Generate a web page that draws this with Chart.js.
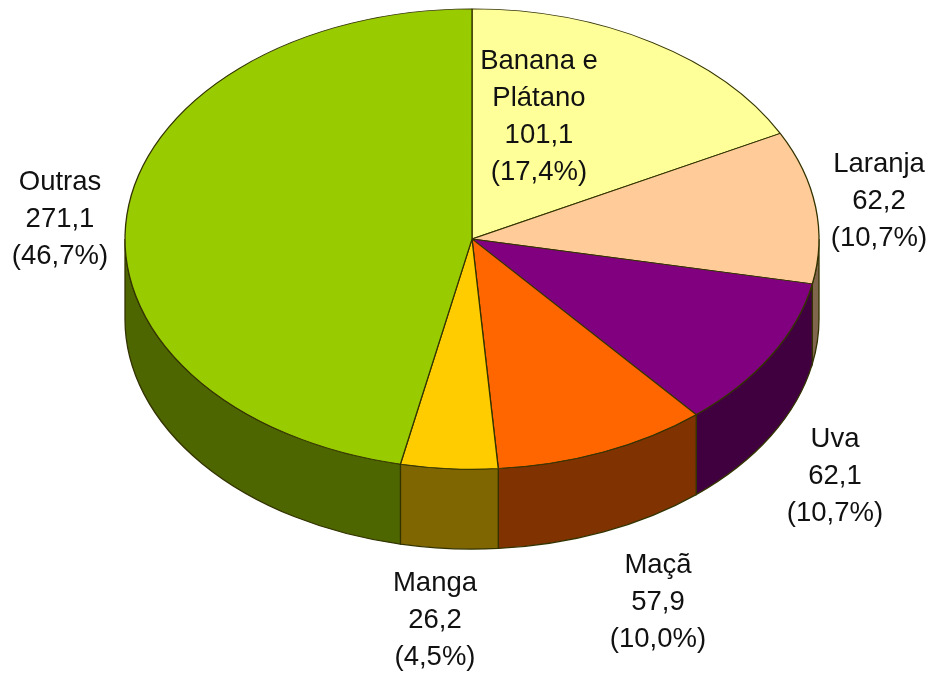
<!DOCTYPE html>
<html>
<head>
<meta charset="utf-8">
<script src="https://cdn.jsdelivr.net/npm/chart.js@4/dist/chart.umd.js"></script>
<style>
  html, body { margin: 0; padding: 0; background: #fff; }
  #wrap { width: 930px; height: 675px; }
</style>
</head>
<body>
<div id="wrap"><canvas id="pie" width="930" height="675"></canvas></div>
<script>
const categories = ["Banana e|Plátano", "Laranja", "Uva", "Maçã", "Manga", "Outras"];
const values = [101.1, 62.2, 62.1, 57.9, 26.2, 271.1];
const percents = [17.4, 10.7, 10.7, 10.0, 4.5, 46.7];

const topColors = ["#FFFF99", "#FFCC99", "#800080", "#FF6600", "#FFCC00", "#99CC00"];
const wallColors = ["#808040", "#80664D", "#400040", "#803300", "#806600", "#4D6600"];

// where each label block goes: centre x, centre y of its first line
const labelSpots = [[539, 60], [879, 163], [835, 438], [658, 564], [435, 582], [60, 181]];

const centerX = 472;
const centerY = 239;
const squash = 0.663;
const depth = 80;
const lineColor = "#333300";

const fmt = (n) => n.toFixed(1).replace(".", ",");

// tilts the pie: everything the library draws for the top face goes through this
const tilt = {
  id: "tilt",
  beforeDatasetsDraw(chart) {
    const ctx = chart.ctx;
    const arcs = chart.getDatasetMeta(0).data;
    const ox = arcs[0].x, oy = arcs[0].y;
    const rx = arcs[0].outerRadius, ry = rx * squash;

    // side wall, only the front half of the rim is visible
    arcs.forEach((arc, i) => {
      const a = Math.max(arc.startAngle, 0);
      const b = Math.min(arc.endAngle, Math.PI);
      if (b <= a) return;
      ctx.beginPath();
      ctx.ellipse(centerX, centerY, rx, ry, 0, a, b);
      ctx.ellipse(centerX, centerY + depth, rx, ry, 0, b, a, true);
      ctx.closePath();
      ctx.fillStyle = wallColors[i];
      ctx.fill();
      ctx.lineWidth = 1.3;
      ctx.strokeStyle = lineColor;
      ctx.stroke();
    });

    ctx.save();
    ctx.translate(centerX, centerY);
    ctx.scale(1, squash);
    ctx.translate(-ox, -oy);
  },
  afterDatasetsDraw(chart) {
    chart.ctx.restore();
  },
  afterDraw(chart) {
    const ctx = chart.ctx;
    ctx.save();
    ctx.font = '27.5px "Liberation Sans", Arial, sans-serif';
    ctx.fillStyle = "#111111";
    ctx.textAlign = "center";
    ctx.textBaseline = "middle";
    categories.forEach((name, i) => {
      const lines = name.split("|").concat([fmt(values[i]), "(" + fmt(percents[i]) + "%)"]);
      lines.forEach((txt, j) => {
        ctx.fillText(txt, labelSpots[i][0], labelSpots[i][1] + 1 + j * 37);
      });
    });
    ctx.restore();
  },
};

new Chart(document.getElementById("pie"), {
  type: "pie",
  data: {
    labels: categories,
    datasets: [
      {
        data: values,
        backgroundColor: topColors,
        borderColor: lineColor,
        borderWidth: 1.3,
        clip: false,
      },
    ],
  },
  options: {
    responsive: false,
    animation: false,
    events: [],
    radius: 347,
    plugins: {
      legend: { display: false },
      tooltip: { enabled: false },
    },
  },
  plugins: [tilt],
});
</script>
</body>
</html>
